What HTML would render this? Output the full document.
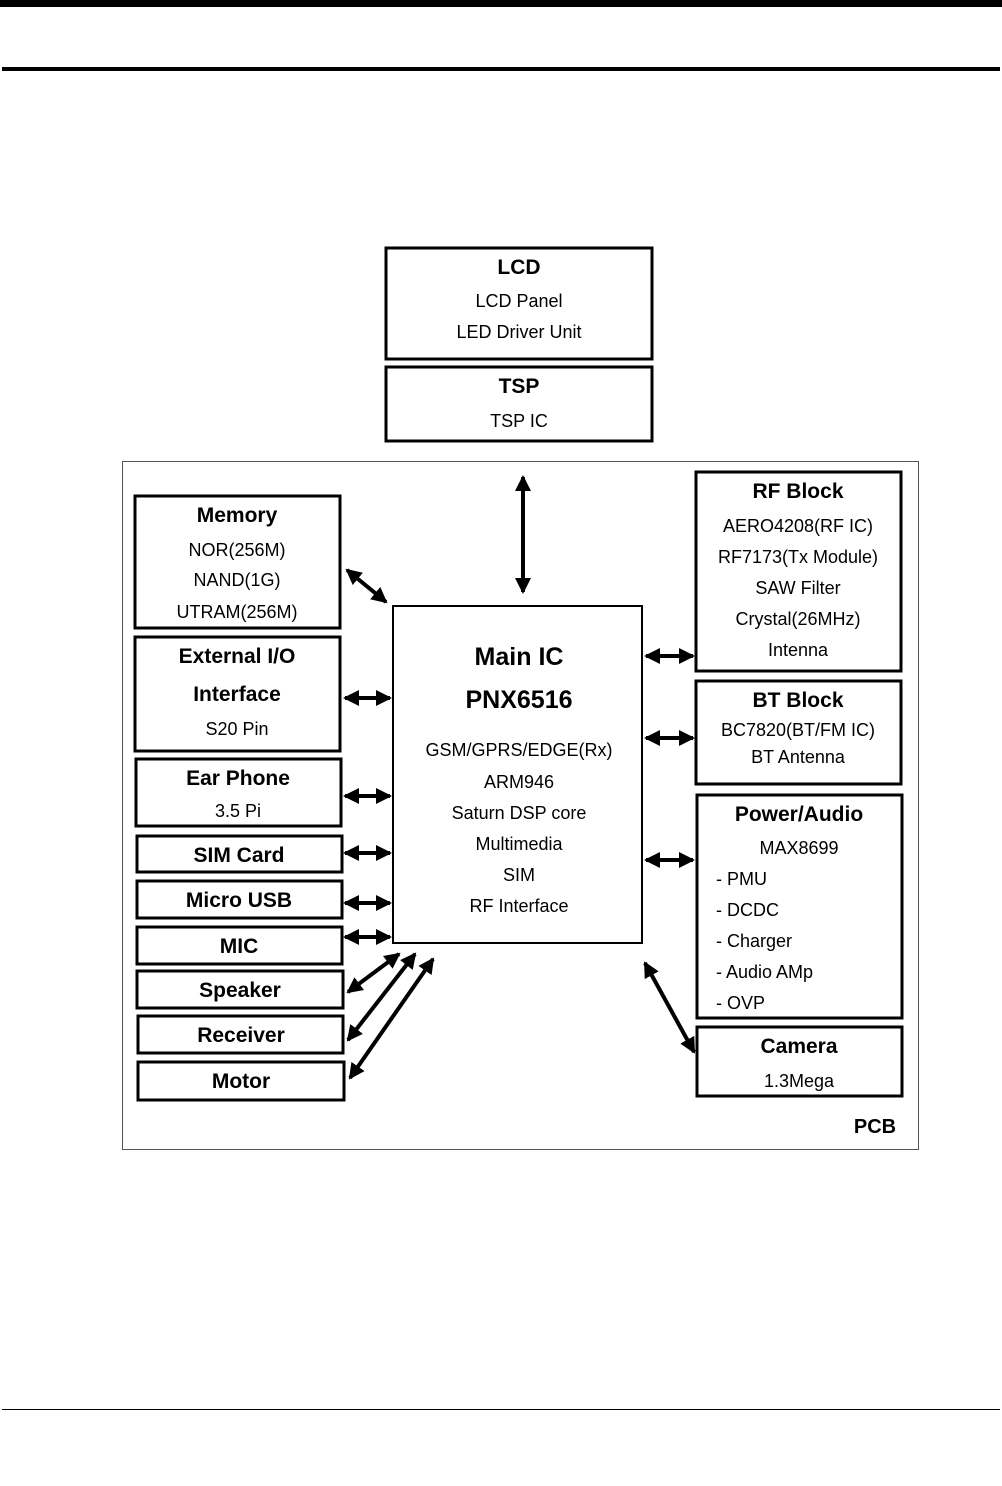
<!DOCTYPE html>
<html><head><meta charset="utf-8"><style>
body{margin:0;background:#fff;}
svg{display:block;}
text{font-family:"Liberation Sans",sans-serif;fill:#000;text-anchor:middle;}
.t{font-weight:bold;font-size:21px;}
.b{font-size:18px;}
.l{text-anchor:start;font-size:18px;}
.bx{fill:none;stroke:#000;stroke-width:3;}
.ar{stroke:#000;stroke-width:4;marker-start:url(#h);marker-end:url(#h);}
</style></head><body>
<svg width="1002" height="1486" viewBox="0 0 1002 1486">
<defs><marker id="h" markerWidth="4" markerHeight="4" refX="3.5" refY="2" orient="auto-start-reverse" markerUnits="strokeWidth"><path d="M0,0 L4,2 L0,4 Z" fill="#000"/></marker></defs>
<rect x="0" y="0" width="1002" height="7" fill="#000"/>
<rect x="2" y="67" width="998" height="4" fill="#000"/>
<rect x="2" y="1409" width="998" height="1" fill="#000"/>
<rect x="122.5" y="461.5" width="796" height="688" fill="none" stroke="#555" stroke-width="1"/>
<text x="875" y="1133" class="t" style="font-size:20px">PCB</text>

<rect class="bx" x="386" y="248" width="266" height="111"/>
<text class="t" x="519" y="274">LCD</text><text class="b" x="519" y="307">LCD Panel</text><text class="b" x="519" y="338">LED Driver Unit</text>
<rect class="bx" x="386" y="367" width="266" height="74"/>
<text class="t" x="519" y="393">TSP</text><text class="b" x="519" y="427">TSP IC</text>

<rect class="bx" x="135" y="496" width="205" height="132"/>
<text class="t" x="237" y="522">Memory</text><text class="b" x="237" y="556">NOR(256M)</text><text class="b" x="237" y="586">NAND(1G)</text><text class="b" x="237" y="618">UTRAM(256M)</text>
<rect class="bx" x="135" y="637" width="205" height="114"/>
<text class="t" x="237" y="663">External I/O</text><text class="t" x="237" y="701">Interface</text><text class="b" x="237" y="735">S20 Pin</text>
<rect class="bx" x="136" y="759" width="205" height="67"/>
<text class="t" x="238" y="785">Ear Phone</text><text class="b" x="238" y="817">3.5 Pi</text>
<rect class="bx" x="137" y="836" width="205" height="36"/><text class="t" x="239" y="862">SIM Card</text>
<rect class="bx" x="137" y="881" width="205" height="37"/><text class="t" x="239" y="907">Micro USB</text>
<rect class="bx" x="137" y="927" width="205" height="37"/><text class="t" x="239" y="953">MIC</text>
<rect class="bx" x="137" y="971" width="206" height="37"/><text class="t" x="240" y="997">Speaker</text>
<rect class="bx" x="138" y="1016" width="205" height="37"/><text class="t" x="241" y="1042">Receiver</text>
<rect class="bx" x="138" y="1062" width="206" height="38"/><text class="t" x="241" y="1088">Motor</text>

<rect x="393" y="606" width="249" height="337" fill="none" stroke="#000" stroke-width="2"/>
<text class="t" x="519" y="665" style="font-size:25px">Main IC</text>
<text class="t" x="519" y="708" style="font-size:25px">PNX6516</text>
<text class="b" x="519" y="756">GSM/GPRS/EDGE(Rx)</text><text class="b" x="519" y="788">ARM946</text><text class="b" x="519" y="819">Saturn DSP core</text><text class="b" x="519" y="850">Multimedia</text><text class="b" x="519" y="881">SIM</text><text class="b" x="519" y="912">RF Interface</text>

<rect class="bx" x="696" y="472" width="205" height="199"/>
<text class="t" x="798" y="498">RF Block</text><text class="b" x="798" y="532">AERO4208(RF IC)</text><text class="b" x="798" y="563">RF7173(Tx Module)</text><text class="b" x="798" y="594">SAW Filter</text><text class="b" x="798" y="625">Crystal(26MHz)</text><text class="b" x="798" y="656">Intenna</text>
<rect class="bx" x="696" y="681" width="205" height="103"/>
<text class="t" x="798" y="707">BT Block</text><text class="b" x="798" y="736">BC7820(BT/FM IC)</text><text class="b" x="798" y="763">BT Antenna</text>
<rect class="bx" x="697" y="795" width="205" height="223"/>
<text class="t" x="799" y="821">Power/Audio</text><text class="b" x="799" y="854">MAX8699</text>
<text class="l" x="716" y="885">- PMU</text><text class="l" x="716" y="916">- DCDC</text><text class="l" x="716" y="947">- Charger</text><text class="l" x="716" y="978">- Audio AMp</text><text class="l" x="716" y="1009">- OVP</text>
<rect class="bx" x="697" y="1027" width="205" height="69"/>
<text class="t" x="799" y="1053">Camera</text><text class="b" x="799" y="1087">1.3Mega</text>

<g>
<line class="ar" x1="523" y1="477" x2="523" y2="592"/>
<line class="ar" x1="347" y1="570" x2="386" y2="602"/>
<line class="ar" x1="345" y1="698" x2="390" y2="698"/>
<line class="ar" x1="345" y1="796" x2="390" y2="796"/>
<line class="ar" x1="345" y1="853" x2="390" y2="853"/>
<line class="ar" x1="345" y1="903" x2="390" y2="903"/>
<line class="ar" x1="345" y1="937" x2="390" y2="937"/>
<line class="ar" x1="646" y1="656" x2="693" y2="656"/>
<line class="ar" x1="646" y1="738" x2="693" y2="738"/>
<line class="ar" x1="646" y1="860" x2="693" y2="860"/>
<line class="ar" x1="348" y1="992" x2="399" y2="954"/>
<line class="ar" x1="348" y1="1040" x2="415" y2="954"/>
<line class="ar" x1="350" y1="1078" x2="433" y2="959"/>
<line class="ar" x1="645" y1="963" x2="694" y2="1052"/>
</g>
</svg>
</body></html>
